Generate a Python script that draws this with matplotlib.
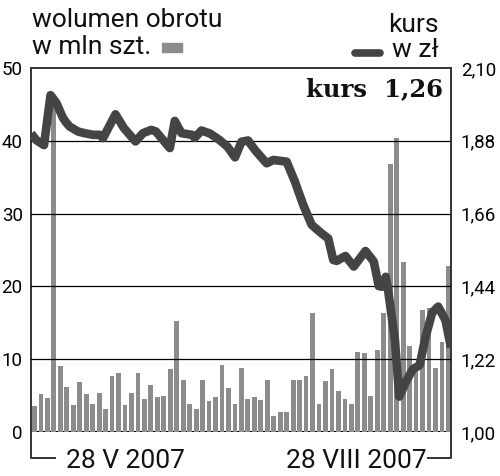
import matplotlib
matplotlib.use("Agg")
import matplotlib.pyplot as plt
from matplotlib.lines import Line2D
from matplotlib.patches import Rectangle

# ---- data ----
volume = [3.6, 5.2, 4.7, 46.0, 9.0, 6.2, 3.7, 6.9, 5.2, 3.8,
          5.4, 3.2, 7.7, 8.1, 3.7, 5.4, 8.1, 4.6, 6.5, 4.8,
          4.9, 8.7, 15.2, 7.1, 3.8, 3.2, 7.1, 4.2, 4.8, 9.2,
          6.1, 3.8, 8.8, 4.5, 4.8, 4.4, 7.1, 2.2, 2.7, 2.75,
          7.2, 7.2, 7.7, 16.3, 3.9, 7.05, 8.6, 5.7, 4.5, 3.85,
          11.0, 10.9, 5.0, 11.3, 16.4, 36.8, 40.4, 23.4, 11.8, 8.5,
          16.8, 17.0, 8.8, 12.3, 22.8]

line_idx = [-0.5, 0.29, 1.48, 2.49, 3.38, 4.42, 4.99, 5.46, 6.74, 7.77,
            9.06, 10.09, 10.6, 12.53, 13.85, 15.63, 16.78, 18.07, 18.79, 20.93,
            21.70, 22.74, 24.36, 24.78, 25.83, 27.14, 28.64, 29.85, 31.01, 32.01,
            33.02, 34.10, 35.90, 36.92, 38.99, 40.28, 41.56, 42.86, 44.40, 45.42,
            46.20, 46.72, 48.08, 49.37, 51.18, 52.46, 53.23, 53.72, 54.31, 54.65,
            55.73, 56.40, 57.48, 58.51, 59.55, 60.45, 61.48, 62.42, 63.54, 64.4]
price = [1.902, 1.882, 1.867, 2.018, 1.995, 1.949, 1.933, 1.923, 1.908, 1.903,
         1.898, 1.898, 1.888, 1.960, 1.918, 1.878, 1.903, 1.913, 1.908, 1.858,
         1.940, 1.903, 1.898, 1.889, 1.911, 1.902, 1.882, 1.862, 1.830, 1.877,
         1.881, 1.852, 1.812, 1.822, 1.817, 1.756, 1.686, 1.626, 1.600, 1.585,
         1.520, 1.517, 1.532, 1.500, 1.547, 1.515, 1.441, 1.439, 1.469, 1.432,
         1.278, 1.107, 1.154, 1.190, 1.202, 1.286, 1.360, 1.379, 1.338, 1.255]

vol_ticks = [0, 10, 20, 30, 40, 50]
vol_labels = ["0", "10", "20", "30", "40", "50"]
price_ticks = [1.00, 1.22, 1.44, 1.66, 1.88, 2.10]
price_labels = ["1,00", "1,22", "1,44", "1,66", "1,88", "2,10"]
date_labels = ["28 V 2007", "28 VIII 2007"]
legend_vol = "wolumen obrotu\nw mln szt."
legend_price = "kurs\nw zł"
current_label = "kurs  1,26"

BAR_C = "#8c8c8c"
LINE_C = "#444444"
SPINE_C = "#333333"
SANS = ["Roboto", "DejaVu Sans"]

W, H = 500, 476
def fx(x):
    return x / W
def fy(y):
    return 1 - y / H

fig = plt.figure(figsize=(5, 4.76), dpi=100)
fig.patch.set_facecolor("white")
ax = fig.add_axes([fx(31), fy(432), 420 / W, 364 / H])

ax.axhline(0, color="black", lw=1.5, zorder=1)
ax.bar(range(len(volume)), volume, width=0.74, color=BAR_C, zorder=2)
for v in vol_ticks[1:-1]:
    ax.axhline(v, color="black", lw=0.9, zorder=3)
ax.set_xlim(-0.53, 64.4)
ax.set_ylim(0, 50)
ax.set_xticks([])
ax.set_yticks(vol_ticks)
ax.set_yticklabels(vol_labels, family=SANS, fontsize=13.5)
ax.tick_params(axis="y", length=0, pad=6)
ax.spines["bottom"].set_visible(False)
for s in ["left", "right", "top"]:
    ax.spines[s].set_color(SPINE_C)
    ax.spines[s].set_linewidth(1.4)

ax2 = ax.twinx()
ax2.set_ylim(1.0, 2.10)
ax2.set_yticks(price_ticks)
ax2.set_yticklabels(price_labels, family=SANS, fontsize=13.5)
ax2.tick_params(axis="y", length=0, pad=7)
for s in ax2.spines.values():
    s.set_visible(False)
ax2.plot(line_idx, price, color=LINE_C, lw=6.2, solid_joinstyle="round",
         solid_capstyle="butt", zorder=5)

# extended axis brackets below the plot
fig.add_artist(Line2D([fx(31), fx(31), fx(55)], [fy(432), fy(458), fy(458)],
                      color=SPINE_C, lw=1.4))
fig.add_artist(Line2D([fx(451), fx(451), fx(428)], [fy(432), fy(458), fy(458)],
                      color=SPINE_C, lw=1.4))

# date labels
fig.text(fx(66), fy(468), date_labels[0], family=SANS, fontsize=19,
         ha="left", va="baseline", color="#111111")
fig.text(fx(427), fy(468), date_labels[1], family=SANS, fontsize=19,
         ha="right", va="baseline", color="#111111")

# legends
vl = legend_vol.split("\n")
fig.text(fx(32), fy(27), vl[0], family=SANS, fontsize=19, ha="left",
         va="baseline", color="#111111")
fig.text(fx(32), fy(53.5), vl[1], family=SANS, fontsize=19, ha="left",
         va="baseline", color="#111111")
fig.add_artist(Rectangle((fx(161.7), fy(51.7)), 20 / W, 8.4 / H,
                         transform=fig.transFigure, color=BAR_C))

pl = legend_price.split("\n")
fig.text(fx(438.5), fy(31.7), pl[0], family=SANS, fontsize=19, ha="right",
         va="baseline", color="#111111")
fig.text(fx(438.5), fy(56.7), pl[1], family=SANS, fontsize=19, ha="right",
         va="baseline", color="#111111")
fig.add_artist(Line2D([fx(355), fx(380)], [fy(52.5), fy(52.5)], color=LINE_C,
                      lw=5.5, solid_capstyle="round"))

fig.text(fx(443), fy(96), current_label, family=["DejaVu Serif"],
         fontweight="bold", fontsize=17.5, ha="right", va="baseline",
         color="#111111")

fig.savefig("out.png", dpi=100, facecolor="white")
